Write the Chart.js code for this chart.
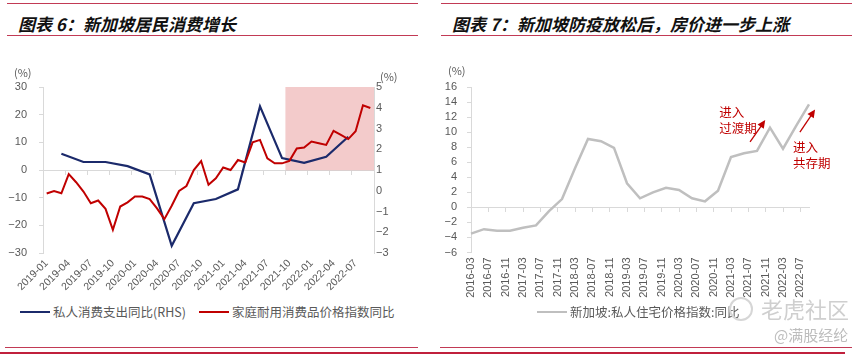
<!DOCTYPE html>
<html>
<head>
<meta charset="utf-8">
<script src="https://cdn.jsdelivr.net/npm/chart.js@4.4.1/dist/chart.umd.min.js"></script>
<style>
  body { margin: 0; width: 864px; height: 360px; background: #fff; position: relative; overflow: hidden;
         font-family: "Noto Sans CJK SC", "Liberation Sans", sans-serif; }
  .rule { position: absolute; height: 1px; background: #c23a55; }
  .rule.thick { height: 2px; background: #c0203c; }
  .title { position: absolute; top: 11px; line-height: 20px; font: italic bold 17px "Noto Sans CJK SC"; color: #111; white-space: nowrap; }
  .box { position: absolute; top: 40px; width: 432px; height: 260px; }
  .unit { position: absolute; font-size: 11px; line-height: 12px; color: #595959; }
  .legend { position: absolute; top: 304px; height: 16px; font-size: 12.5px; line-height: 16px; color: #595959;
            display: flex; align-items: center; white-space: nowrap; }
  .legend i { display: inline-block; width: 30px; height: 2px; margin-right: 3px; }
  .mark { position: absolute; color: #cfcfcf; white-space: nowrap; }
</style>
</head>
<body>
<div class="rule" style="left:7px;top:3px;width:411px"></div>
<div class="rule" style="left:7px;top:35px;width:411px"></div>
<div class="title" style="left:18px">图表 6：新加坡居民消费增长</div>
<div class="rule" style="left:441px;top:3px;width:411px"></div>
<div class="rule" style="left:441px;top:35px;width:411px"></div>
<div class="title" style="left:452px">图表 7：新加坡防疫放松后，房价进一步上涨</div>

<div class="box" style="left:0"><canvas id="consChart"></canvas></div>
<div class="box" style="left:432px"><canvas id="houseChart"></canvas></div>

<div class="unit" style="left:14px;top:66px">(%)</div>
<div class="unit" style="left:380px;top:70px">(%)</div>
<div class="unit" style="left:448px;top:64px">(%)</div>

<div class="legend" style="left:20px">
  <i style="background:#1b2a6b"></i>私人消费支出同比(RHS)
  <i style="background:#c00000;margin-left:13px"></i>家庭耐用消费品价格指数同比
</div>
<div class="legend" style="left:537px">
  <i style="background:#bfbfbf"></i>新加坡:私人住宅价格指数:同比
</div>

<div class="mark" style="left:729px;top:297px;width:20px;height:20px;border:2px solid #d6d6d6;border-radius:50%"></div>
<div class="mark" style="left:761px;top:294px;font-size:22px;line-height:28px">老虎社区</div>
<div class="mark" style="left:774px;top:326px;font-size:15px;line-height:18px;color:#bdbdbd">@满股经纶</div>

<div class="rule" style="left:5px;top:347px;width:413px"></div>
<div class="rule thick" style="left:0;top:352px;width:432px"></div>
<div class="rule" style="left:440px;top:347px;width:412px"></div>
<div class="rule thick" style="left:432px;top:352px;width:413px"></div>

<script>
function monthRange(start, end) {
  const out = [];
  let [y, m] = start.split("-").map(Number);
  const [ey, em] = end.split("-").map(Number);
  while (y < ey || (y === ey && m <= em)) {
    out.push(y + "-" + String(m).padStart(2, "0"));
    m++;
    if (m > 12) { m = 1; y++; }
  }
  return out;
}

// ---- chart 6: consumption ----
const consMonths = monthRange("2019-01", "2022-09");
const spendQuarters = ["2019-03", "2019-06", "2019-09", "2019-12", "2020-03", "2020-06", "2020-09",
  "2020-12", "2021-03", "2021-06", "2021-09", "2021-12", "2022-03", "2022-06"];
const spendYoY = [5.9, 2.9, 2.9, 1.4, -1.6, -27.4, -12.0, -10.5, -7.0, 23.0, 4.3, 2.6, 4.8, 12.0];
const durablesYoY = [-0.13, -0.01, -0.12, 0.80, 0.41, -0.04, -0.60, -0.47, -0.87, -1.88, -0.76, -0.56,
  -0.28, -0.28, -0.40, -0.85, -1.37, -0.72, -0.01, 0.23, 1.00, 1.43, 0.29, 0.60,
  1.12, 1.00, 1.48, 1.36, 2.33, 2.45, 1.56, 1.32, 1.32, 1.44, 2.04, 2.08,
  2.37, 2.29, 2.21, 2.89, 2.69, 2.49, 2.87, 4.12, 3.99];
const shadeFrom = "2021-10";   // shaded period runs to the end of the axis
const leftTicks = { min: -30, max: 30, step: 10 };
const rightTicks = { min: -3, max: 5, step: 1 };

// ---- chart 7: housing ----
const houseMonths = monthRange("2016-03", "2022-09");
const houseQuarters = monthRange("2016-03", "2022-09").filter((m, i) => i % 3 === 0);
const housePriceYoY = [-3.5, -2.9, -3.1, -3.1, -2.7, -2.4, -0.5, 1.1, 5.2, 9.1, 8.8, 7.9, 3.2, 1.2,
  2.0, 2.6, 2.3, 1.2, 0.8, 2.2, 6.7, 7.2, 7.5, 10.6, 7.8, 10.8, 13.7];
const houseTicks = { min: -6, max: 16, step: 2 };

const axisGray = "#d9d9d9";
const labelGray = "#595959";
const minus = v => String(v).replace("-", "\u2212");
const tickFont = { family: "Liberation Sans", size: 11 };

// x axis drawn on the zero line, only tick marks, like the Excel original
const zeroAxis = (every, offset, yId) => ({
  type: "category", position: { [yId]: 0 }, offset: offset,
  ticks: { display: false },
  grid: { offset: offset, drawOnChartArea: false, drawTicks: true, tickLength: 4,
    color: c => (c.index % every === 0 ? axisGray : "rgba(0,0,0,0)") },
  border: { display: true, color: axisGray }
});

new Chart(document.getElementById("consChart"), {
  type: "line",
  data: {
    labels: consMonths,
    datasets: [
      // one horizontal floating bar over month slots [start, end) for the shaded period
      { type: "bar", indexAxis: "y", data: [[consMonths.indexOf(shadeFrom), consMonths.length]],
        backgroundColor: "rgba(226,130,130,0.42)", borderWidth: 0, xAxisID: "xs", yAxisID: "ys",
        categoryPercentage: 1, barPercentage: 1, order: 3 },
      { label: "私人消费支出同比(RHS)", data: spendQuarters.map((q, i) => ({ x: q, y: spendYoY[i] })),
        borderColor: "#1b2a6b", borderWidth: 2.2, pointRadius: 0, tension: 0, xAxisID: "x", yAxisID: "y", order: 2 },
      { label: "家庭耐用消费品价格指数同比", data: durablesYoY,
        borderColor: "#c00000", borderWidth: 2, pointRadius: 0, tension: 0, xAxisID: "x", yAxisID: "y1", order: 1 }
    ]
  },
  options: {
    responsive: true, maintainAspectRatio: false, animation: false,
    layout: { padding: { left: 0, right: 30, top: 47, bottom: 0 } },
    plugins: { legend: { display: false }, tooltip: { enabled: false } },
    scales: {
      x: { type: "category", offset: true, afterFit: s => { s.height = 47; },
        grid: { display: false, drawTicks: false, offset: true }, border: { display: false },
        ticks: { autoSkip: false, minRotation: 45, maxRotation: 45, padding: 4, color: labelGray,
          font: { family: "Liberation Sans", size: 10.5 },
          callback: (v, i) => (i % 3 === 0 ? consMonths[i] : "") } },
      xz: zeroAxis(3, true, "y"),
      xs: { type: "linear", display: false, min: 0, max: consMonths.length },
      ys: { type: "category", display: false, labels: ["shade"], offset: true },
      y: { position: "left", min: leftTicks.min, max: leftTicks.max, afterFit: s => { s.width = 43; },
        ticks: { stepSize: leftTicks.step, padding: 12, color: labelGray, font: tickFont, callback: minus },
        grid: { drawOnChartArea: false, tickLength: 4, color: axisGray }, border: { color: axisGray } },
      y1: { position: "right", min: rightTicks.min, max: rightTicks.max, afterFit: s => { s.width = 28; },
        ticks: { stepSize: rightTicks.step, padding: 2, color: labelGray, font: tickFont, callback: minus },
        grid: { drawOnChartArea: false, drawTicks: false }, border: { color: axisGray } }
    }
  }
});

// arrows and labels in chart 7, placed in data units (month index, %)
const phaseNotes = [
  { lines: ["进入", "过渡期"], text: [57.3, 12.7], from: [64.4, 8.7], to: [67.9, 11.6] },
  { lines: ["进入", "共存期"], text: [74.3, 8.0], from: [75.9, 10.0], to: [79.4, 13.0] }
];

const notesPlugin = {
  id: "phaseNotes",
  afterDatasetsDraw(chart) {
    const { ctx, scales } = chart;
    const px = p => [scales.x.getPixelForValue(p[0]), scales.y.getPixelForValue(p[1])];
    ctx.save();
    ctx.fillStyle = "#c00000";
    ctx.strokeStyle = "#c00000";
    ctx.font = '12.5px "Noto Sans CJK SC"';
    ctx.textBaseline = "middle";
    phaseNotes.forEach(n => {
      const [tx, ty] = px(n.text);
      n.lines.forEach((s, i) => ctx.fillText(s, tx, ty + i * 16.5));
      const [x1, y1] = px(n.from);
      const [x2, y2] = px(n.to);
      const a = Math.atan2(y2 - y1, x2 - x1);
      const c = Math.cos(a), s = Math.sin(a);
      ctx.lineWidth = 1.3;
      ctx.beginPath();
      ctx.moveTo(x1, y1);
      ctx.lineTo(x2 - 6 * c, y2 - 6 * s);
      ctx.stroke();
      ctx.beginPath();
      ctx.moveTo(x2, y2);
      ctx.lineTo(x2 - 8 * c + 3.8 * s, y2 - 8 * s - 3.8 * c);
      ctx.lineTo(x2 - 8 * c - 3.8 * s, y2 - 8 * s + 3.8 * c);
      ctx.closePath();
      ctx.fill();
    });
    ctx.restore();
  }
};

new Chart(document.getElementById("houseChart"), {
  type: "line",
  data: {
    labels: houseMonths,
    datasets: [
      { label: "新加坡:私人住宅价格指数:同比", data: houseQuarters.map((q, i) => ({ x: q, y: housePriceYoY[i] })),
        borderColor: "#bfbfbf", borderWidth: 2.5, pointRadius: 0, tension: 0, xAxisID: "x", yAxisID: "y" }
    ]
  },
  options: {
    responsive: true, maintainAspectRatio: false, animation: false,
    layout: { padding: { left: 0, right: 55, top: 47, bottom: 0 } },
    plugins: { legend: { display: false }, tooltip: { enabled: false } },
    scales: {
      x: { type: "category", offset: false, afterFit: s => { s.height = 47.5; },
        grid: { display: false, drawTicks: false }, border: { display: false },
        ticks: { autoSkip: false, minRotation: 90, maxRotation: 90, padding: 5, color: labelGray,
          font: { family: "Liberation Sans", size: 11 },
          callback: (v, i) => (i % 4 === 0 ? houseMonths[i] : "") } },
      xz: zeroAxis(4, false, "y"),
      y: { position: "left", min: houseTicks.min, max: houseTicks.max, afterFit: s => { s.width = 39; },
        ticks: { stepSize: houseTicks.step, autoSkip: false, padding: 10, color: labelGray, font: tickFont, callback: minus },
        grid: { drawOnChartArea: false, tickLength: 4, color: axisGray }, border: { color: axisGray } }
    }
  },
  plugins: [notesPlugin]
});
</script>
</body>
</html>
